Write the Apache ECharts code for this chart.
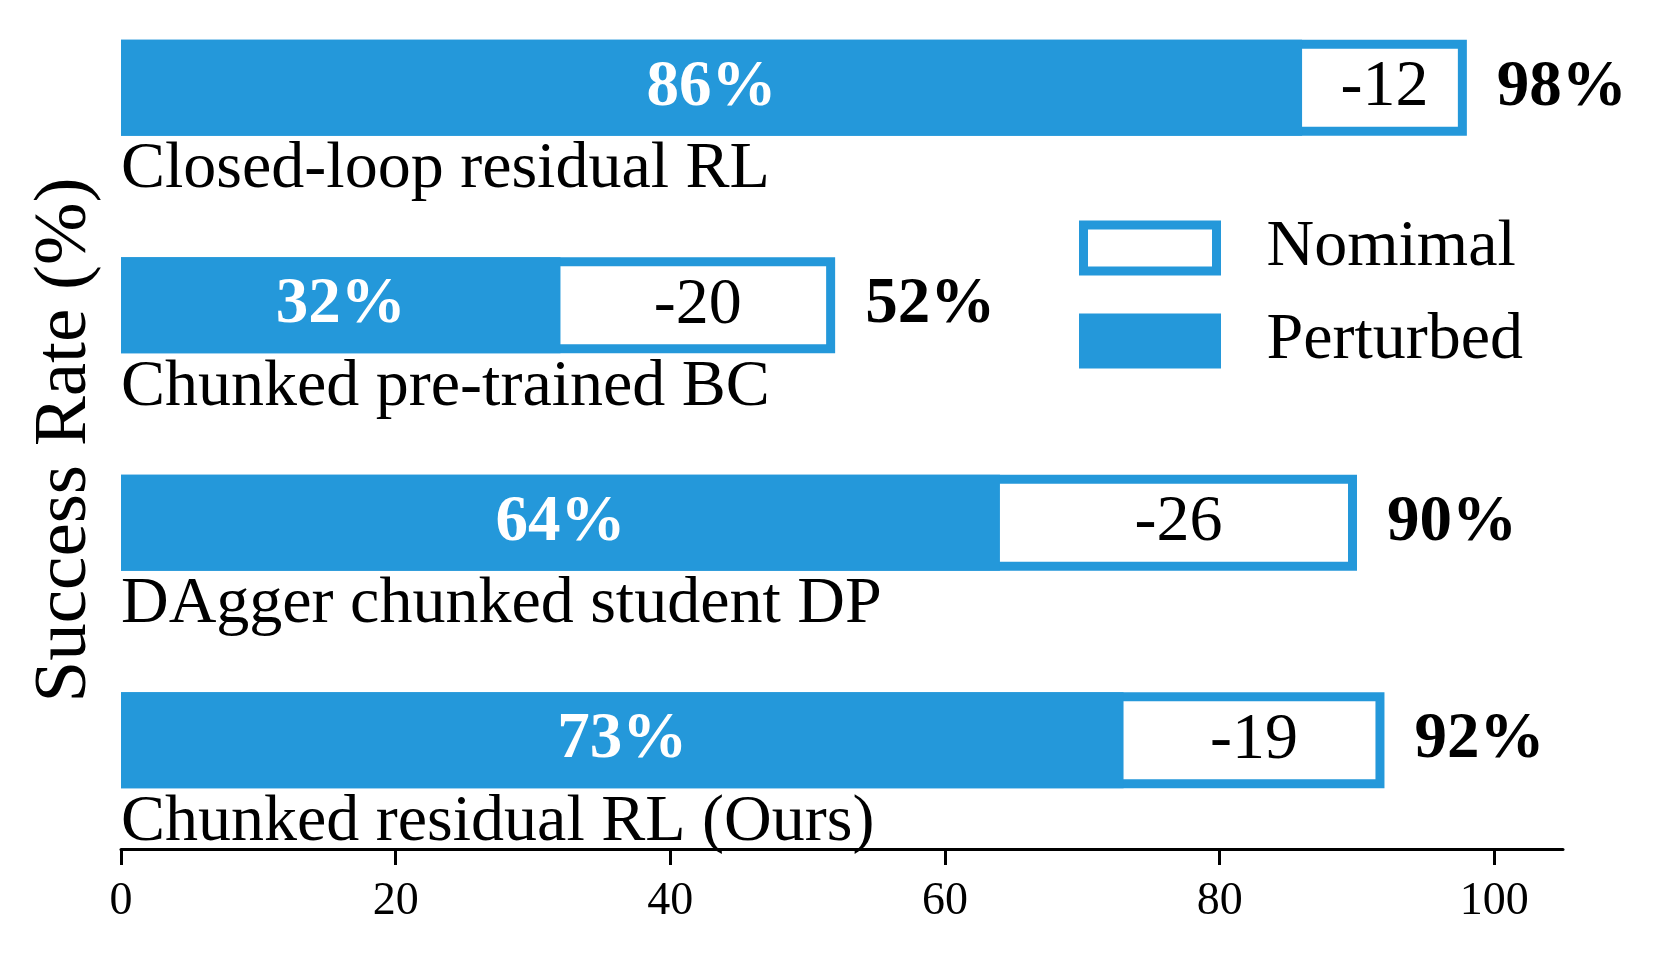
<!DOCTYPE html>
<html><head><meta charset="utf-8">
<script src="https://cdn.jsdelivr.net/npm/echarts@6/dist/echarts.min.js"></script>
<style>html,body{margin:0;padding:0;background:#fff}#c{width:1659px;height:959px}</style>
</head><body><div id="c"></div>
<script>
const categories = ['Closed-loop residual RL','Chunked pre-trained BC','DAgger chunked student DP','Chunked residual RL (Ours)'];
const nominal = [98, 52, 90, 92];
const perturbed = [86, 32, 64, 73];
const xTicks = [0, 20, 40, 60, 80, 100];
const seriesNames = ['Nomimal', 'Perturbed'];

const FONT = '"Liberation Serif", "Times New Roman", serif';
const BLUE = '#2498DA';
const gapValues = nominal.map((n, i) => n - perturbed[i]);

const chart = echarts.init(document.getElementById('c'), null, {renderer: 'canvas'});
chart.setOption({
  animation: false,
  backgroundColor: '#fff',
  grid: {left: 121, right: 96, top: -21, bottom: 110, containLabel: false, outerBoundsMode: 'none'},
  legend: {
    orient: 'vertical',
    left: 1074,
    top: 210,
    icon: 'rect',
    itemWidth: 133,
    itemHeight: 46,
    itemGap: 27,
    selectedMode: false,
    data: [
      {name: seriesNames[0], itemStyle: {color: '#fff', borderColor: BLUE, borderWidth: 9}},
      {name: seriesNames[1], itemStyle: {color: BLUE, borderColor: BLUE, borderWidth: 9}}
    ],
    textStyle: {fontFamily: FONT, fontSize: 66, color: '#000', padding: [0, 0, 0, 45]}
  },
  xAxis: {
    type: 'value', min: 0, max: 105, interval: 20,
    axisLine: {show: true, lineStyle: {color: '#000', width: 3}},
    axisTick: {show: true, length: 16, lineStyle: {color: '#000', width: 3}, customValues: xTicks},
    axisLabel: {fontFamily: FONT, fontSize: 46, color: '#000', margin: 30, customValues: xTicks},
    splitLine: {show: false}
  },
  yAxis: {
    type: 'category', data: categories, inverse: true,
    axisLine: {show: false}, axisTick: {show: false}, axisLabel: {show: false},
    name: 'Success Rate (%)', nameLocation: 'middle', nameGap: 18, nameRotate: 90,
    nameTextStyle: {fontFamily: FONT, fontSize: 75, color: '#000', padding: [0, 52, 0, 0]}
  },
  series: [
    {
      name: seriesNames[0], type: 'bar', data: nominal, barWidth: 96, barGap: '-100%',
      itemStyle: {color: '#fff', borderColor: BLUE, borderWidth: 9},
      label: {show: true, position: 'right', distance: 30, formatter: '{c}%',
        fontFamily: FONT, fontSize: 65, fontWeight: 'bold', color: '#000'},
      z: 2
    },
    {
      name: seriesNames[1], type: 'bar', data: perturbed, barWidth: 96, barGap: '-100%',
      itemStyle: {color: BLUE, borderColor: BLUE, borderWidth: 0},
      label: {show: true, position: 'inside', formatter: '{c}%',
        fontFamily: FONT, fontSize: 65, fontWeight: 'bold', color: '#fff'},
      z: 3
    },
    {
      name: 'base', type: 'bar', stack: 'gap', data: perturbed, barWidth: 96, barGap: '-100%',
      itemStyle: {color: 'rgba(0,0,0,0)', borderWidth: 0}, silent: true, z: 4
    },
    {
      name: 'gap', type: 'bar', stack: 'gap', data: gapValues, barWidth: 96, barGap: '-100%',
      itemStyle: {color: 'rgba(0,0,0,0)', borderWidth: 0}, silent: true, z: 4,
      label: {show: true, position: 'inside', formatter: p => String(-p.value),
        fontFamily: FONT, fontSize: 66, color: '#000'}
    },
    {
      name: 'names', type: 'scatter', data: categories.map(c => [0, c]),
      symbolSize: 0, clip: false, silent: true, z: 5,
      itemStyle: {opacity: 1},
      label: {show: true, position: 'right', distance: 0, offset: [0, 82], opacity: 1,
        formatter: p => p.value[1], fontFamily: FONT, fontSize: 66, color: '#000'}
    }
  ]
});
</script></body></html>
